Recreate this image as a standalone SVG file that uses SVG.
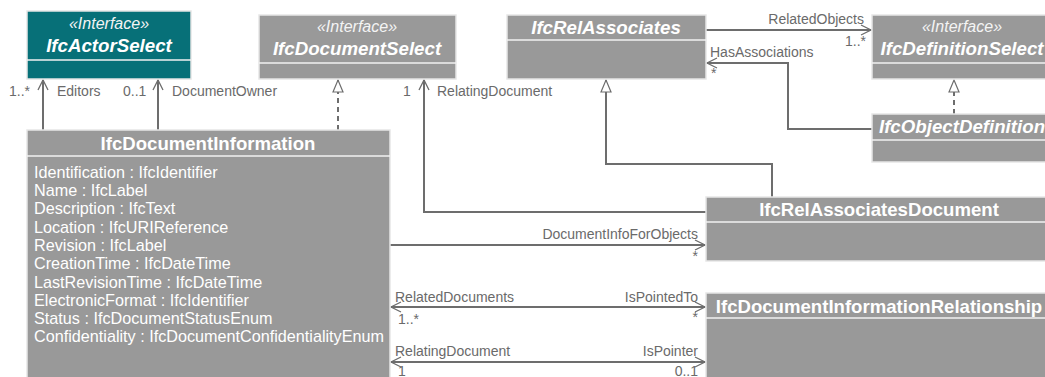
<svg xmlns="http://www.w3.org/2000/svg" width="1045" height="377" viewBox="0 0 1045 377">
<style>
.box{fill:#999999;stroke:#e6e6e6;stroke-width:1.5}
.teal{fill:#077078;stroke:#e6e6e6;stroke-width:1.5}
.div{stroke:#f2f2f2;stroke-width:1.5}
.st{font-family:"Liberation Sans",Arial,sans-serif;font-size:16px;font-style:italic;fill:#f4f4f4;text-anchor:middle}
.ti{font-family:"Liberation Sans",Arial,sans-serif;font-size:18.7px;font-style:italic;font-weight:bold;fill:#ffffff;text-anchor:middle}
.tn{font-family:"Liberation Sans",Arial,sans-serif;font-size:18.6px;font-weight:bold;fill:#ffffff;text-anchor:middle}
.at{font-family:"Liberation Sans",Arial,sans-serif;font-size:16.2px;fill:#ffffff}
.lb{font-family:"Liberation Sans",Arial,sans-serif;font-size:14px;fill:#6a6a6a}
.r{text-anchor:end}
.ln{fill:none;stroke:#6d6d6d;stroke-width:2}
.dash{fill:none;stroke:#6d6d6d;stroke-width:2;stroke-dasharray:5,4}
</style>
<defs>
<marker id="open" markerWidth="14" markerHeight="14" refX="11" refY="6" orient="auto" markerUnits="userSpaceOnUse">
<path d="M1,1 L11,6 L1,11" fill="none" stroke="#6d6d6d" stroke-width="1.3"/>
</marker>
<marker id="openS" markerWidth="14" markerHeight="14" refX="11" refY="6" orient="auto-start-reverse" markerUnits="userSpaceOnUse">
<path d="M1,1 L11,6 L1,11" fill="none" stroke="#6d6d6d" stroke-width="1.3"/>
</marker>
<marker id="tri" markerWidth="16" markerHeight="14" refX="13" refY="6" orient="auto" markerUnits="userSpaceOnUse">
<path d="M1,1 L13,6 L1,11 Z" fill="#ffffff" stroke="#6d6d6d" stroke-width="1.2"/>
</marker>
</defs>

<g id="connectors">
<line class="ln" x1="43" y1="130" x2="43" y2="80" marker-end="url(#open)"/>
<text class="lb" x="9" y="96">1..*</text>
<text class="lb" x="57" y="96">Editors</text>
<line class="ln" x1="158" y1="130" x2="158" y2="80" marker-end="url(#open)"/>
<text class="lb" x="123" y="96">0..1</text>
<text class="lb" x="172" y="96">DocumentOwner</text>
<line class="dash" x1="338" y1="130" x2="338" y2="80" marker-end="url(#tri)"/>
<polyline class="ln" points="706,212 424,212 424,80" marker-end="url(#open)"/>
<text class="lb" x="403" y="96">1</text>
<text class="lb" x="437" y="96">RelatingDocument</text>
<polyline class="ln" points="772,197 772,164 606,164 606,80" marker-end="url(#tri)"/>
<line class="ln" x1="706" y1="30" x2="871" y2="30" marker-end="url(#open)"/>
<text class="lb r" x="864" y="24">RelatedObjects</text>
<text class="lb r" x="866" y="46">1..*</text>
<polyline class="ln" points="872,129 788,129 788,63 707,63" marker-end="url(#open)"/>
<text class="lb" x="710" y="57">HasAssociations</text>
<text class="lb" x="711" y="78">*</text>
<line class="dash" x1="954" y1="114" x2="954" y2="80" marker-end="url(#tri)"/>
<line class="ln" x1="390" y1="245" x2="705" y2="245" marker-end="url(#open)"/>
<text class="lb r" x="698" y="239">DocumentInfoForObjects</text>
<text class="lb r" x="698" y="261">*</text>
<line class="ln" x1="391" y1="307" x2="705" y2="307" marker-start="url(#openS)" marker-end="url(#openS)"/>
<text class="lb" x="395" y="302">RelatedDocuments</text>
<text class="lb" x="398" y="324">1..*</text>
<text class="lb r" x="698" y="302">IsPointedTo</text>
<text class="lb r" x="698" y="322">*</text>
<line class="ln" x1="391" y1="362" x2="705" y2="362" marker-start="url(#openS)" marker-end="url(#openS)"/>
<text class="lb" x="395" y="356">RelatingDocument</text>
<text class="lb" x="398" y="376">1</text>
<text class="lb r" x="698" y="356">IsPointer</text>
<text class="lb r" x="698" y="376">0..1</text>
</g>

<g id="IfcActorSelect">
<rect class="teal" x="27" y="11" width="164" height="68"/>
<line class="div" x1="27" y1="60" x2="191" y2="60"/>
<text class="st" x="109" y="29">«Interface»</text>
<text class="ti" x="109" y="52">IfcActorSelect</text>
</g>

<g id="IfcDocumentSelect">
<rect class="box" x="259" y="15" width="197" height="64"/>
<line class="div" x1="259" y1="63" x2="456" y2="63"/>
<text class="st" x="357" y="32">«Interface»</text>
<text class="ti" x="357" y="55">IfcDocumentSelect</text>
</g>

<g id="IfcRelAssociates">
<rect class="box" x="507" y="15" width="199" height="64"/>
<line class="div" x1="507" y1="40" x2="706" y2="40"/>
<text class="ti" x="606" y="34">IfcRelAssociates</text>
</g>

<g id="IfcDefinitionSelect">
<rect class="box" x="872" y="15" width="180" height="64"/>
<line class="div" x1="872" y1="63" x2="1052" y2="63"/>
<text class="st" x="962" y="32">«Interface»</text>
<text class="ti" x="962" y="55">IfcDefinitionSelect</text>
</g>

<g id="IfcObjectDefinition">
<rect class="box" x="872" y="114" width="180" height="48"/>
<line class="div" x1="872" y1="140" x2="1052" y2="140"/>
<text class="ti" x="962" y="133">IfcObjectDefinition</text>
</g>

<g id="IfcDocumentInformation">
<rect class="box" x="27" y="130" width="363" height="260"/>
<line class="div" x1="27" y1="156" x2="390" y2="156"/>
<text class="tn" x="208" y="150">IfcDocumentInformation</text>
<text class="at" x="34" y="178">Identification : IfcIdentifier</text>
<text class="at" x="34" y="196">Name : IfcLabel</text>
<text class="at" x="34" y="214">Description : IfcText</text>
<text class="at" x="34" y="233">Location : IfcURIReference</text>
<text class="at" x="34" y="251">Revision : IfcLabel</text>
<text class="at" x="34" y="269">CreationTime : IfcDateTime</text>
<text class="at" x="34" y="288">LastRevisionTime : IfcDateTime</text>
<text class="at" x="34" y="306">ElectronicFormat : IfcIdentifier</text>
<text class="at" x="34" y="324">Status : IfcDocumentStatusEnum</text>
<text class="at" x="34" y="342">Confidentiality : IfcDocumentConfidentialityEnum</text>
</g>

<g id="IfcRelAssociatesDocument">
<rect class="box" x="706" y="197" width="346" height="64"/>
<line class="div" x1="706" y1="222" x2="1052" y2="222"/>
<text class="tn" x="879" y="216">IfcRelAssociatesDocument</text>
</g>

<g id="IfcDocumentInformationRelationship">
<rect class="box" x="706" y="293" width="346" height="100"/>
<line class="div" x1="706" y1="318" x2="1052" y2="318"/>
<text class="tn" x="879" y="313">IfcDocumentInformationRelationship</text>
</g>
</svg>
